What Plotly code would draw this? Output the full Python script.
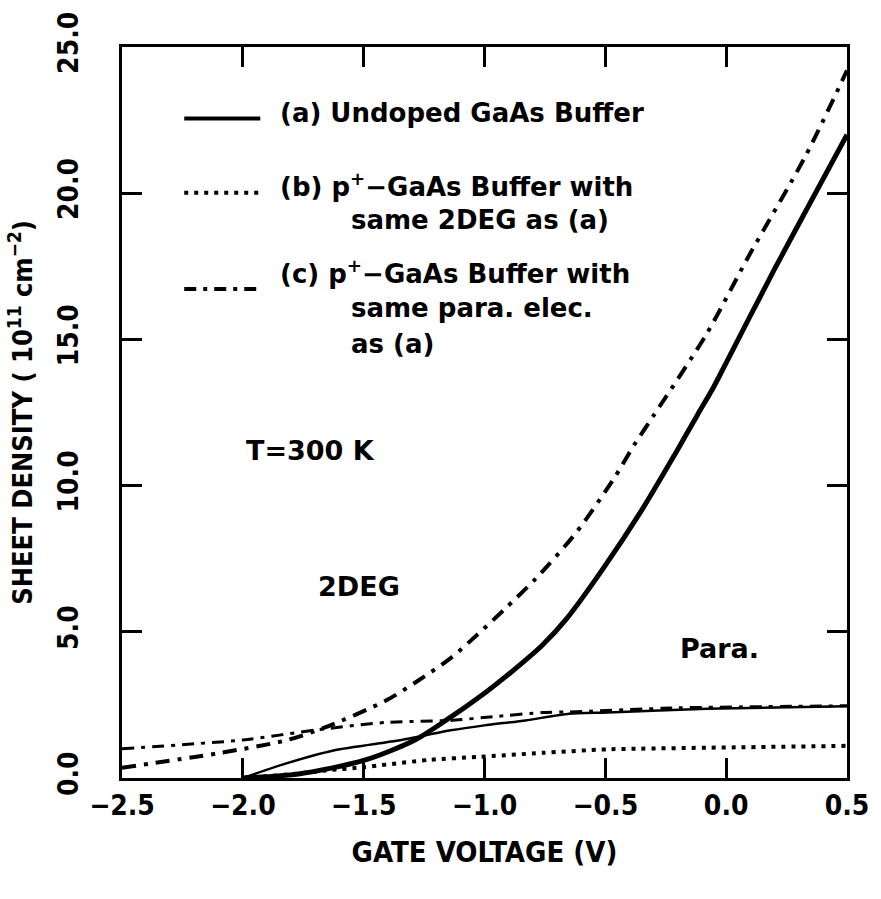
import plotly.graph_objects as go

# ---------------- data ----------------
# (a) undoped GaAs buffer, 2DEG (thick solid)
a_2deg_v = [-2.0, -1.77, -1.5, -1.29, -1.16, -1.0, -0.9, -0.76, -0.66, -0.51, -0.35, -0.21, -0.12, -0.05, 0.0, 0.2, 0.33, 0.5]
a_2deg_n = [0.0, 0.14, 0.6, 1.29, 1.97, 2.9, 3.55, 4.55, 5.45, 7.15, 9.15, 11.1, 12.4, 13.4, 14.2, 17.4, 19.4, 22.0]

# (a) undoped GaAs buffer, parallel electrons (thin solid)
a_para_v = [-2.0, -1.82, -1.62, -1.35, -1.14, -1.0, -0.83, -0.65, -0.49, -0.08, 0.5]
a_para_n = [0.0, 0.5, 0.95, 1.29, 1.63, 1.8, 1.97, 2.2, 2.24, 2.37, 2.45]

# (b) p+-GaAs buffer, same 2DEG as (a): parallel electrons (dotted)
b_para_v = [-2.0, -1.8, -1.64, -1.5, -1.23, -1.03, -0.76, -0.49, 0.06, 0.5]
b_para_n = [0.0, 0.13, 0.27, 0.37, 0.62, 0.72, 0.86, 0.98, 1.05, 1.1]

# (c) p+-GaAs buffer, same parallel electrons as (a): 2DEG (thick dash-dot)
c_2deg_v = [-2.5, -2.1, -1.82, -1.66, -1.41, -1.28, -1.14, -1.03, -0.92, -0.79, -0.62, -0.46, -0.38, -0.3, -0.08, 0.09, 0.33, 0.5]
c_2deg_n = [0.35, 0.85, 1.29, 1.73, 2.64, 3.3, 4.1, 4.9, 5.75, 6.8, 8.4, 10.3, 11.4, 12.4, 15.2, 17.8, 21.3, 24.2]

# (c) parallel electrons (thin dash-dot)
c_para_v = [-2.5, -2.0, -1.69, -1.41, -1.14, -0.96, -0.76, -0.65, -0.2, 0.5]
c_para_n = [1.0, 1.3, 1.65, 1.9, 1.97, 2.1, 2.24, 2.26, 2.4, 2.47]

x_ticks = [-2.5, -2.0, -1.5, -1.0, -0.5, 0.0, 0.5]
y_ticks = [0.0, 5.0, 10.0, 15.0, 20.0, 25.0]

legend_a = ["(a) Undoped GaAs Buffer"]
legend_b = ["(b) p<sup>+</sup>−GaAs Buffer with", "same 2DEG as (a)"]
legend_c = ["(c) p<sup>+</sup>−GaAs Buffer with", "same para. elec.", "as (a)"]

# ---------------- figure ----------------
W, H = 881, 899
ML, MR, MT, MB = 122, 25, 41, 121
PW, PH = W - ML - MR, H - MT - MB


def px(x):
    return (x - ML) / PW


def py(y):
    return (H - MB - y) / PH


FAMILY = "DejaVu Sans, Verdana, sans-serif"
TXT_FONT = dict(family=FAMILY, size=26, color="black", weight="bold")
NARROW = "Liberation Sans Narrow, DejaVu Sans Condensed, Arial Narrow, DejaVu Sans, sans-serif"

DASHDOT_THICK = "14px,8px,4px,8px"
DASHDOT_THIN = "12px,7px,4px,7px"
DOT = "4px,6px"

fig = go.Figure()
fig.add_trace(go.Scatter(x=b_para_v, y=b_para_n, mode="lines",
                         line=dict(color="black", width=4, dash=DOT, shape="spline", smoothing=0.6),
                         showlegend=False, hoverinfo="skip"))
fig.add_trace(go.Scatter(x=c_para_v, y=c_para_n, mode="lines",
                         line=dict(color="black", width=3, dash=DASHDOT_THIN, shape="spline", smoothing=0.6),
                         showlegend=False, hoverinfo="skip"))
fig.add_trace(go.Scatter(x=a_para_v, y=a_para_n, mode="lines",
                         line=dict(color="black", width=2.5, shape="spline", smoothing=0.6),
                         showlegend=False, hoverinfo="skip"))
fig.add_trace(go.Scatter(x=c_2deg_v, y=c_2deg_n, mode="lines",
                         line=dict(color="black", width=4, dash=DASHDOT_THICK, shape="spline", smoothing=0.8),
                         showlegend=False, hoverinfo="skip"))
fig.add_trace(go.Scatter(x=a_2deg_v, y=a_2deg_n, mode="lines",
                         line=dict(color="black", width=5, shape="spline", smoothing=0.8),
                         showlegend=False, hoverinfo="skip"))

shapes = []
annotations = []

# legend samples (decoration)
for yy, dash, wdt in [(113, "solid", 4), (188, DOT, 4), (285, DASHDOT_THIN, 4)]:
    shapes.append(dict(type="line", xref="paper", yref="paper",
                       x0=px(185), x1=px(262), y0=py(yy), y1=py(yy),
                       line=dict(color="black", width=wdt, dash=dash)))

# legend texts
leg_rows = [
    (legend_a[0], 280, 108),
    (legend_b[0], 280, 180), (legend_b[1], 352, 215),
    (legend_c[0], 280, 268), (legend_c[1], 352, 304), (legend_c[2], 352, 340),
]
for txt, x0, y0 in leg_rows:
    annotations.append(dict(text=txt, xref="paper", yref="paper", x=px(x0), y=py(y0),
                            xanchor="left", yanchor="middle", showarrow=False, font=TXT_FONT))

# in-plot labels
for txt, cx, cy in [("T=300 K", 313, 448), ("2DEG", 362, 585), ("Para.", 727, 647)]:
    annotations.append(dict(text=txt, xref="paper", yref="paper", x=px(cx), y=py(cy),
                            xanchor="center", yanchor="middle", showarrow=False,
                            font=dict(family=FAMILY, size=27, color="black", weight="bold")))

axis_common = dict(showgrid=False, zeroline=False, showline=True, linecolor="black", linewidth=3,
                   mirror="ticks", ticks="inside", ticklen=20, tickwidth=3, tickcolor="black",
                   tickformat=".1f")

fig.update_layout(
    width=W, height=H,
    margin=dict(l=ML, r=MR, t=MT, b=MB, pad=0),
    paper_bgcolor="white", plot_bgcolor="white",
    xaxis=dict(range=[-2.5, 0.5], tickvals=x_ticks,
               tickfont=dict(family=NARROW, size=28, color="black", weight="bold"),
               title=dict(text="GATE VOLTAGE (V)", standoff=22,
                          font=dict(family=NARROW, size=29, color="black", weight="bold")),
               **axis_common),
    yaxis=dict(range=[0, 25], tickvals=y_ticks, tickangle=-90, ticklabelstandoff=30,
               tickfont=dict(family=NARROW, size=28, color="black", weight="bold"),
               title=dict(text="SHEET DENSITY ( 10<sup>11</sup> cm<sup>−2</sup>)", standoff=12,
                          font=dict(family=NARROW, size=27, color="black", weight="bold")),
               **axis_common),
    shapes=shapes,
    annotations=annotations,
)

fig.write_html("out.html")
